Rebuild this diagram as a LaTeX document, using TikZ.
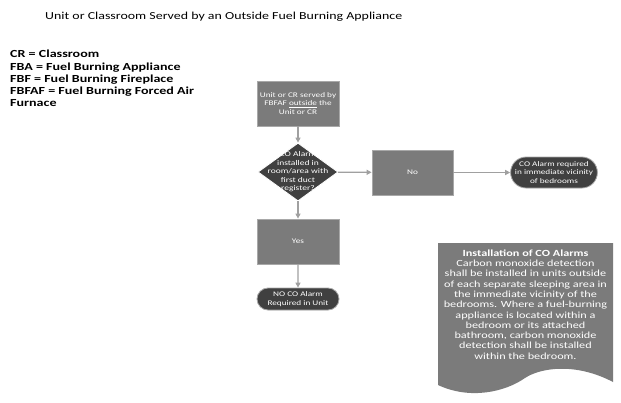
\documentclass[tikz,border=0pt]{standalone}
\usepackage{fontspec}
\setmainfont{Carlito}
\newfontfamily\widefont[FakeStretch=1.3]{Carlito}
\usetikzlibrary{shapes.geometric,shapes.misc,arrows.meta}
\definecolor{boxgray}{HTML}{7B7B7B}
\definecolor{boxedge}{HTML}{A8A8A8}
\definecolor{ovaldark}{HTML}{404040}
\definecolor{arrowgray}{HTML}{A0A0A0}
\tikzset{
  procbox/.style={draw=boxedge, line width=0.8pt, fill=boxgray, text=white, minimum width=82pt, minimum height=45pt, inner sep=1pt, align=center, font=\widefont\fontsize{7.1}{8.3}\selectfont},
  decbox/.style={diamond, draw=white, line width=0.8pt, fill=ovaldark, minimum width=80pt, minimum height=58pt, inner sep=0pt},
  dectext/.style={text=white, inner sep=0pt, align=center, font=\widefont\fontsize{7.3}{8.5}\selectfont},
  termbox/.style={rounded rectangle, draw=boxedge, line width=0.8pt, fill=ovaldark, text=white, inner sep=0pt, align=center, font=\widefont\fontsize{7.1}{8.3}\selectfont},
  conn/.style={draw=arrowgray, line width=1.3pt, -{Triangle[length=5pt,width=5pt]}},
}
\begin{document}
\begin{tikzpicture}[x=1pt,y=-1pt]
\useasboundingbox[fill=white] (0,0) rectangle (621,402);
\node[anchor=west, inner sep=0pt, font=\widefont\fontsize{10.7}{12}\selectfont] (title) at (45,17) {Unit or Classroom Served by an Outside Fuel Burning Appliance};
\node[anchor=north west, align=left, inner sep=0pt, font=\widefont\bfseries\fontsize{10.8}{12.3}\selectfont] (legend) at (10,50) {CR = Classroom\\FBA = Fuel Burning Appliance\\FBF = Fuel Burning Fireplace\\FBFAF = Fuel Burning Forced Air\\Furnace};
\node[procbox] (start) at (298,103.5) {Unit or CR served by\\FBFAF \underline{outside} the\\Unit or CR};
\node[decbox] (dec) at (298,172) {};
\node[dectext] (dectxt) at (298,172) {CO Alarm\\installed in\\room/area with\\first duct\\register?};
\node[procbox, minimum width=81pt] (no) at (412.5,172.5) {No};
\node[procbox] (yes) at (298,241.5) {Yes};
\node[termbox, minimum width=82pt, minimum height=31pt] (req) at (554,172.5) {CO Alarm required\\in immediate vicinity\\of bedrooms};
\node[termbox, minimum width=82pt, minimum height=22pt] (noreq) at (298,299) {NO CO Alarm\\Required in Unit};
% document shape
\fill[boxgray] (438,243) -- (613,243) -- (613,382) .. controls (575,362) and (540,368) .. (525,378) .. controls (505,392) and (470,400) .. (438,385) -- cycle;
\node[text=white, align=center, font=\widefont\fontsize{9.4}{10.3}\selectfont, inner sep=0pt] (doc) at (525.5,304.5) {\textbf{Installation of CO Alarms}\\Carbon monoxide detection\\shall be installed in units outside\\of each separate sleeping area in\\the immediate vicinity of the\\bedrooms. Where a fuel-burning\\appliance is located within a\\bedroom or its attached\\bathroom, carbon monoxide\\detection shall be installed\\within the bedroom.};
\draw[conn] (start) -- (dec);
\draw[conn] (dec) -- (yes);
\draw[conn] (yes) -- (noreq);
\draw[conn] (dec) -- (no);
\draw[conn] (no) -- (req);
\end{tikzpicture}
\end{document}
